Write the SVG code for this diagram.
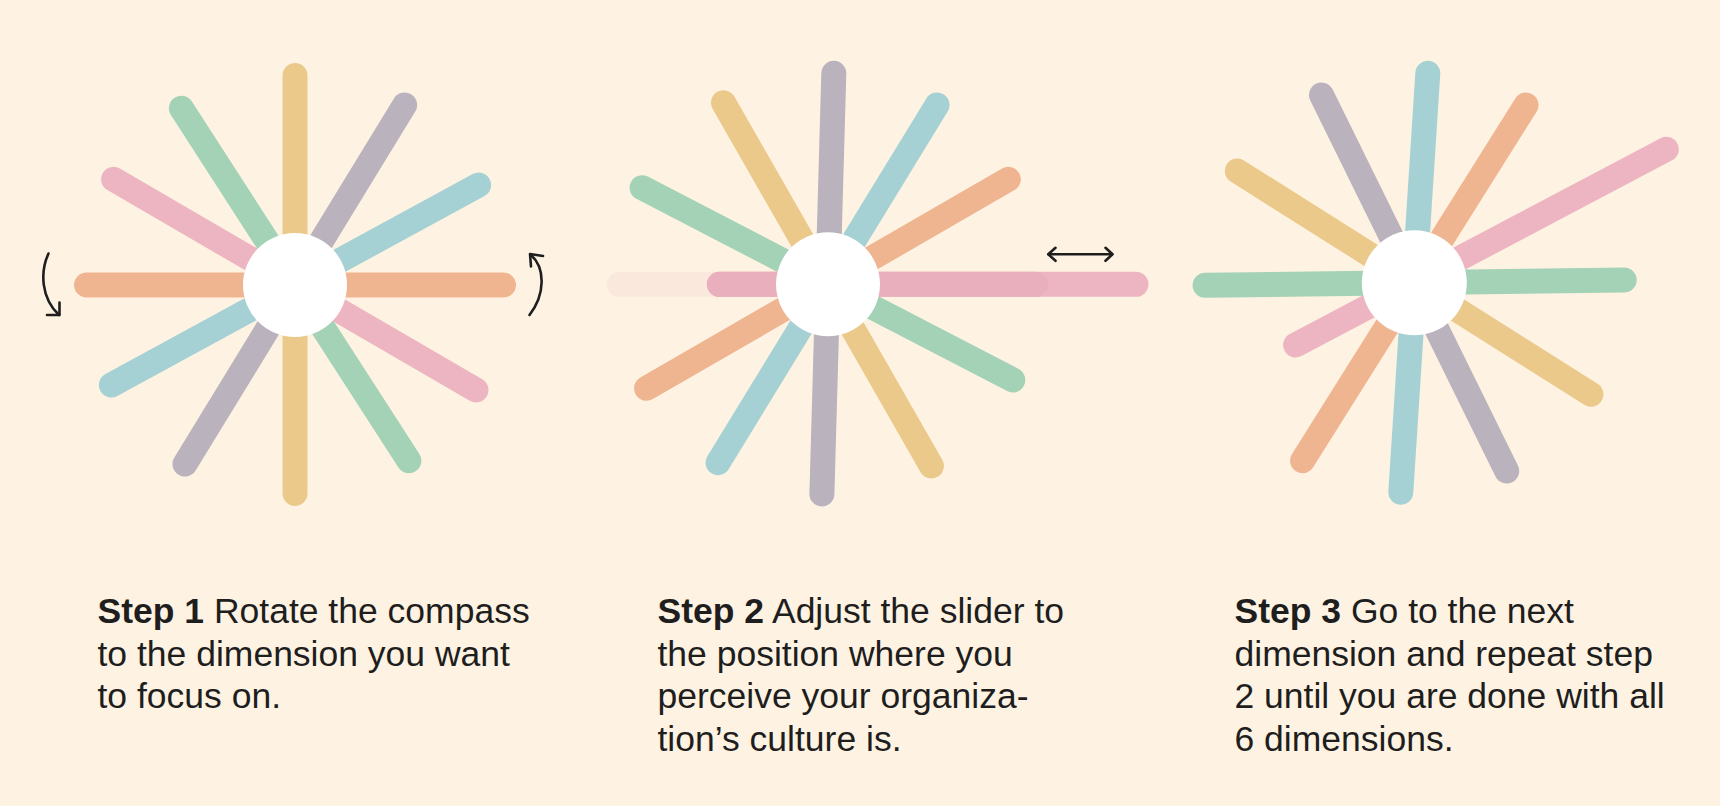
<svg xmlns="http://www.w3.org/2000/svg" width="1720" height="806" viewBox="0 0 1720 806">
<style>
.sp{stroke-width:25;stroke-linecap:round;fill:none}
.y{stroke:#EBC98B}.g{stroke:#A4D2B7}.m{stroke:#BAB2BC}.b{stroke:#A6D1D4}.p{stroke:#EDB5C1}.o{stroke:#EFB591}
.hub{fill:#FFFFFF}
.arr{stroke:#1E1E1E;stroke-width:2.6;fill:none;stroke-linecap:round;stroke-linejoin:round}
.t{font-family:"Liberation Sans",Arial,Helvetica,sans-serif;font-size:35.5px;fill:#1E1E1E}
.bd{font-weight:bold}
</style>
<rect x="0" y="0" width="1720" height="806" fill="#FEF3E2"/>

<g id="compass-1">
<line class="sp y" x1="295" y1="75.5" x2="295" y2="493.5"/>
<line class="sp o" x1="86.5" y1="285" x2="503.5" y2="285"/>
<line class="sp g" x1="181.4" y1="108.3" x2="408.9" y2="460.7"/>
<line class="sp m" x1="404.6" y1="105" x2="185" y2="464"/>
<line class="sp p" x1="113.6" y1="179.3" x2="476" y2="390"/>
<line class="sp b" x1="478.6" y1="185" x2="111.4" y2="385"/>
<circle class="hub" cx="295" cy="285" r="52"/>
</g>

<g id="compass-2">
<line class="sp m" x1="833.8" y1="73.3" x2="821.9" y2="494"/>
<line class="sp b" x1="937" y1="105" x2="718" y2="462.7"/>
<line class="sp o" x1="1008.3" y1="179.3" x2="646.6" y2="388.3"/>
<line class="sp y" x1="723.5" y1="102.7" x2="931.4" y2="466"/>
<line class="sp g" x1="642.1" y1="187.7" x2="1012.8" y2="380"/>
<line class="sp" stroke="#FBE8DD" x1="619.5" y1="284.3" x2="1035.5" y2="284.3"/>
<line class="sp p" x1="719.4" y1="284.3" x2="1136" y2="284.3"/>
<line class="sp" stroke="#E9AFBD" x1="719.4" y1="284.3" x2="1035.5" y2="284.3"/>
<circle class="hub" cx="828" cy="284.3" r="52"/>
</g>

<g id="compass-3">
<line class="sp b" x1="1427.8" y1="73.3" x2="1400.8" y2="492.3"/>
<line class="sp m" x1="1321.5" y1="95" x2="1506.7" y2="471"/>
<line class="sp o" x1="1526" y1="105" x2="1302.6" y2="460.7"/>
<line class="sp p" x1="1666.3" y1="149.3" x2="1295.6" y2="345"/>
<line class="sp y" x1="1237.3" y1="171" x2="1590.9" y2="394.3"/>
<line class="sp g" x1="1205.1" y1="285.3" x2="1624.2" y2="280"/>
<circle class="hub" cx="1414.3" cy="282.8" r="52.5"/>
</g>

<g id="connectors">
<path class="arr" d="M48.5,253.5 C40,272 41,298 59,315"/>
<path class="arr" d="M47,315 L59.5,315 L59.5,302.5"/>
<path class="arr" d="M529.5,315 C545,295 546,268 530.5,254.5"/>
<path class="arr" d="M543,256 L530,254 L531,266.5"/>
<path class="arr" d="M1048.5,254.3 L1112,254.3"/>
<path class="arr" d="M1055.5,247.8 L1048.3,254.3 L1055.5,260.8"/>
<path class="arr" d="M1105.5,247.8 L1112.5,254.3 L1105.5,260.8"/>
</g>

<g id="step-1">
<text class="t" x="97.5" y="622.7"><tspan class="bd">Step 1</tspan> Rotate the compass</text>
<text class="t" x="97.5" y="665.5">to the dimension you want</text>
<text class="t" x="97.5" y="708.3">to focus on.</text>
</g>
<g id="step-2">
<text class="t" x="657.5" y="622.7"><tspan class="bd">Step 2</tspan> Adjust the slider to</text>
<text class="t" x="657.5" y="665.5">the position where you</text>
<text class="t" x="657.5" y="708.3">perceive your organiza-</text>
<text class="t" x="657.5" y="751.1">tion’s culture is.</text>
</g>
<g id="step-3">
<text class="t" x="1234.5" y="622.7"><tspan class="bd">Step 3</tspan> Go to the next</text>
<text class="t" x="1234.5" y="665.5">dimension and repeat step</text>
<text class="t" x="1234.5" y="708.3">2 until you are done with all</text>
<text class="t" x="1234.5" y="751.1">6 dimensions.</text>
</g>
</svg>
